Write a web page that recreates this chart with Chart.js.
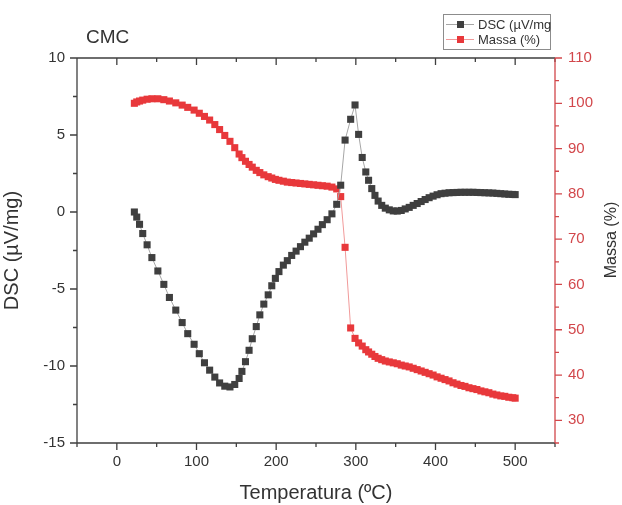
<!DOCTYPE html>
<html>
<head>
<meta charset="utf-8">
<script src="https://cdn.jsdelivr.net/npm/chart.js@4"></script>
<style>
  body { margin: 0; background: #fff; }
  #wrap { width: 622px; height: 505px; }
</style>
</head>
<body>
<div id="wrap"><canvas id="chart"></canvas></div>
<script>
// temperatura (ºC) dos pontos
const temps = [
  22, 25, 28.5, 32.5, 38, 44, 51.5, 59, 66, 74,
  82, 89, 97, 103.5, 110, 116.5, 123, 129, 135.5, 142,
  148, 153.5, 157, 161.5, 166, 170, 175, 179.5, 184.5, 190,
  194.5, 199, 203.5, 209, 214, 219.5, 225, 230.5, 236, 241.5,
  247, 252.5, 258, 264, 270, 276, 281, 286.5, 293.5, 299,
  303.5, 308, 312.5, 316, 320, 324, 328, 332.5, 337, 342,
  347, 352, 357, 362, 367, 372, 377, 382, 387, 392,
  397, 402, 407, 412, 417, 422, 427, 432, 437, 442,
  447, 452, 457, 462, 467, 472, 477, 482, 487, 492,
  497, 500
];

// DSC (µV/mg)
const dscValues = [
  0.0, -0.33, -0.8, -1.4, -2.13, -2.96, -3.83, -4.7, -5.55, -6.37,
  -7.18, -7.9, -8.59, -9.2, -9.79, -10.27, -10.72, -11.1, -11.31, -11.36,
  -11.2, -10.81, -10.35, -9.72, -8.98, -8.23, -7.44, -6.68, -5.98, -5.38,
  -4.79, -4.31, -3.87, -3.45, -3.16, -2.82, -2.54, -2.25, -1.96, -1.7,
  -1.42, -1.12, -0.82, -0.5, -0.12, 0.5, 1.74, 4.67, 6.02, 6.95,
  5.04, 3.54, 2.6, 2.06, 1.52, 1.08, 0.71, 0.43, 0.25, 0.14,
  0.07, 0.06, 0.1, 0.2, 0.3, 0.43, 0.55, 0.68, 0.81, 0.93,
  1.03, 1.12, 1.19, 1.22, 1.25, 1.26, 1.27, 1.28, 1.28, 1.28,
  1.28, 1.27, 1.26, 1.25, 1.24, 1.23, 1.21, 1.19, 1.17, 1.15,
  1.14, 1.13
];

// Massa (%)
const massaValues = [
  100.0, 100.3, 100.5, 100.7, 100.9, 101.0, 101.0, 100.8, 100.5, 100.1,
  99.6, 99.1, 98.5, 97.8, 97.1, 96.3, 95.3, 94.2, 92.9, 91.6,
  90.2, 88.8, 88.0, 87.2, 86.5, 85.9, 85.2, 84.7, 84.2, 83.8,
  83.5, 83.2, 83.0, 82.8, 82.6, 82.5, 82.4, 82.3, 82.2, 82.1,
  82.0, 81.9, 81.8, 81.7, 81.5, 81.1, 79.4, 68.2, 50.4, 48.1,
  47.1, 46.4, 45.6, 45.1, 44.6, 44.1, 43.7, 43.4, 43.1, 42.9,
  42.7, 42.5, 42.2, 42.0, 41.8, 41.5, 41.2, 40.9, 40.6, 40.3,
  40.0, 39.6, 39.3, 39.0, 38.7, 38.3, 38.0, 37.7, 37.5, 37.2,
  37.0, 36.8, 36.5, 36.3, 36.1, 35.8, 35.6, 35.4, 35.3, 35.1,
  35.0, 34.9
];

const seriesLabels = ["DSC (µV/mg", "Massa (%)"];

const xTickValues = [0, 100, 200, 300, 400, 500];
const xRange = [-50, 550];
const yRange = [-15, 10];
const y1Range = [25, 110];

const darkColor = "#3f3f3f";
const redColor = "#e8383b";
const axisRed = "#d2474b";
const textColor = "#333333";
const fontFamily = "'Liberation Sans', Arial, sans-serif";

Chart.defaults.font.family = fontFamily;

// desenha moldura, ticks menores, título CMC e legenda
const framePlugin = {
  id: "frame",
  afterDraw(chart) {
    const { ctx, chartArea: a, scales } = chart;
    const x = scales.x, y = scales.y, y1 = scales.y1;
    ctx.save();

    ctx.lineWidth = 1.3;
    ctx.strokeStyle = darkColor;
    ctx.beginPath();
    ctx.moveTo(a.left, a.top); ctx.lineTo(a.right, a.top);
    ctx.moveTo(a.left, a.top); ctx.lineTo(a.left, a.bottom);
    ctx.moveTo(a.left, a.bottom); ctx.lineTo(a.right, a.bottom);
    for (let v = xRange[0]; v <= xRange[1]; v += 50) {
      const px = x.getPixelForValue(v);
      const len = v % 100 === 0 ? 7 : 4;
      ctx.moveTo(px, a.bottom); ctx.lineTo(px, a.bottom + len);
      ctx.moveTo(px, a.top); ctx.lineTo(px, a.top + len);
    }
    for (let v = yRange[0]; v <= yRange[1]; v += 2.5) {
      const py = y.getPixelForValue(v);
      const len = v % 5 === 0 ? 7 : 4;
      ctx.moveTo(a.left, py); ctx.lineTo(a.left - len, py);
    }
    ctx.stroke();

    ctx.strokeStyle = axisRed;
    ctx.beginPath();
    ctx.moveTo(a.right, a.top); ctx.lineTo(a.right, a.bottom);
    for (let v = y1Range[0]; v <= y1Range[1]; v += 5) {
      const py = y1.getPixelForValue(v);
      const len = v % 10 === 0 ? 7 : 4;
      ctx.moveTo(a.right, py); ctx.lineTo(a.right + len, py);
    }
    ctx.stroke();

    // título do eixo direito
    ctx.fillStyle = textColor;
    ctx.font = "16px " + fontFamily;
    ctx.textAlign = "center";
    ctx.textBaseline = "middle";
    ctx.translate(612, 240);
    ctx.rotate(-Math.PI / 2);
    ctx.fillText("Massa (%)", 0, 0);
    ctx.setTransform(1, 0, 0, 1, 0, 0);

    // CMC
    ctx.textAlign = "left";
    ctx.textBaseline = "alphabetic";
    ctx.font = "19px " + fontFamily;
    ctx.fillText("CMC", 86, 43);

    // legenda
    ctx.strokeStyle = "#8c8c8c";
    ctx.lineWidth = 1;
    ctx.strokeRect(443.5, 14.5, 107, 35);
    ctx.font = "13px " + fontFamily;
    ctx.textBaseline = "middle";
    chart.data.datasets.forEach((ds, i) => {
      const ly = 24.5 + i * 15;
      ctx.strokeStyle = ds.borderColor;
      ctx.beginPath();
      ctx.moveTo(446, ly); ctx.lineTo(474, ly);
      ctx.stroke();
      ctx.fillStyle = ds.pointBackgroundColor;
      ctx.fillRect(457, ly - 3.5, 7, 7);
      ctx.fillStyle = textColor;
      ctx.fillText(ds.label, 478, ly + 0.5);
    });

    ctx.restore();
  }
};

const ctx = document.getElementById("chart").getContext("2d");

new Chart(ctx, {
  type: "line",
  data: {
    datasets: [
      {
        label: seriesLabels[0],
        data: temps.map((t, i) => ({ x: t, y: dscValues[i] })),
        yAxisID: "y",
        borderColor: "#a6a6a6",
        borderWidth: 1,
        pointStyle: "rect",
        pointRadius: 5,
        pointBorderWidth: 0,
        pointBackgroundColor: darkColor,
        fill: false,
        tension: 0
      },
      {
        label: seriesLabels[1],
        data: temps.map((t, i) => ({ x: t, y: massaValues[i] })),
        yAxisID: "y1",
        borderColor: "#f19a9a",
        borderWidth: 1,
        pointStyle: "rect",
        pointRadius: 5,
        pointBorderWidth: 0,
        pointBackgroundColor: redColor,
        fill: false,
        tension: 0
      }
    ]
  },
  options: {
    responsive: true,
    maintainAspectRatio: false,
    animation: false,
    layout: { padding: { top: 58, left: 0, right: 0, bottom: 0 } },
    plugins: {
      legend: { display: false },
      tooltip: { enabled: false }
    },
    scales: {
      x: {
        type: "linear",
        position: "bottom",
        min: xRange[0],
        max: xRange[1],
        grid: { display: false, drawTicks: false },
        border: { display: false },
        ticks: {
          padding: 10,
          color: textColor,
          font: { size: 15 },
          maxRotation: 0
        },
        afterBuildTicks(s) {
          s.ticks = xTickValues.map(v => ({ value: v }));
        },
        title: {
          display: true,
          text: "Temperatura (ºC)",
          color: textColor,
          font: { size: 20 },
          padding: { top: 0, bottom: 0 }
        },
        afterFit(s) { s.height = 62; }
      },
      y: {
        type: "linear",
        position: "left",
        min: yRange[0],
        max: yRange[1],
        grid: { display: false, drawTicks: false },
        border: { display: false },
        ticks: {
          stepSize: 5,
          padding: 12,
          color: textColor,
          font: { size: 15 }
        },
        title: {
          display: true,
          text: "DSC (µV/mg)",
          color: textColor,
          font: { size: 20 },
          padding: { top: 0, bottom: 0 }
        },
        afterFit(s) { s.width = 77; }
      },
      y1: {
        type: "linear",
        position: "right",
        min: y1Range[0],
        max: y1Range[1],
        grid: { display: false, drawTicks: false },
        border: { display: false },
        ticks: {
          stepSize: 10,
          includeBounds: false,
          padding: 13,
          color: axisRed,
          font: { size: 15 }
        },
        afterFit(s) { s.width = 67; }
      }
    }
  },
  plugins: [framePlugin]
});
</script>
</body>
</html>
